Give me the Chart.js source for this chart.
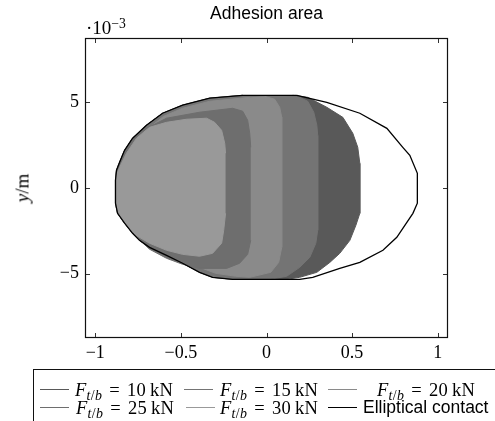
<!DOCTYPE html>
<html><head><meta charset="utf-8">
<script src="https://cdn.jsdelivr.net/npm/chart.js@4.4.1/dist/chart.umd.min.js"></script>
<style>
html,body{margin:0;padding:0;background:#fff;overflow:hidden;}
#wrap{position:relative;width:495px;height:421px;overflow:hidden;background:#fff;}
#c{position:absolute;left:0;top:0;}
.tex{position:absolute;font-family:'Liberation Serif',serif;font-size:18px;line-height:1;color:#000;white-space:nowrap;}
.leg{font-size:18.5px;letter-spacing:0.3px;}
.sans{font-family:'Liberation Sans',Arial,sans-serif;font-size:17.5px;letter-spacing:0;}
.sub{font-size:75%;position:relative;top:0.3em;}
.sup{font-size:72%;position:relative;top:-0.45em;}
.eq{margin:0 7px;}
.unit{margin-left:4px;}
#legend{position:absolute;left:33px;top:369px;width:600px;height:200px;border:1px solid #111;box-sizing:border-box;}
.lline{position:absolute;height:0;border-top:1.3px solid #000;}
</style></head>
<body><div id="wrap">
<canvas id="c" width="495" height="421"></canvas>
<div class="tex" style="left:86px;top:18px;font-size:19px">·10<span class="sup">−3</span></div>
<div class="tex" style="left:22px;top:188px;transform:translate(-50%,-50%) rotate(-90deg);font-size:19px"><i>y</i>/m</div>
<div id="legend"></div>
</div>
<script>
// ---- data (x in m, y in 1e-3 m) ----
const xTicks = [-1, -0.5, 0, 0.5, 1];
const yTicks = [-5, 0, 5];
const forcesKN = [10, 15, 20, 25, 30];
const seriesNames = ['F10', 'F15', 'F20', 'F25', 'F30', 'Elliptical contact'];

// Elliptical contact, right half (top -> bottom)
const ellipseRightX = [0.177, 0.352, 0.545, 0.703, 0.796, 0.837, 0.881, 0.881, 0.855, 0.761, 0.680, 0.545, 0.428, 0.270, 0.194];
const ellipseRightY = [5.42, 5.01, 4.37, 3.49, 2.38, 1.91, 0.86, -0.89, -1.48, -2.88, -3.64, -4.35, -4.70, -5.22, -5.34];
// Contact boundary, left half (bottom -> top), shared by the larger adhesion areas
const contactLeftX = [-0.198, -0.315, -0.391, -0.490, -0.584, -0.683, -0.742, -0.782, -0.829, -0.870, -0.882, -0.882, -0.876, -0.858, -0.829, -0.782, -0.701, -0.607, -0.490, -0.332, -0.139];
const contactLeftY = [-5.34, -5.22, -4.93, -4.40, -3.94, -3.47, -3.06, -2.65, -2.06, -1.48, -0.89, 0.45, 1.04, 1.50, 2.20, 2.91, 3.67, 4.37, 4.84, 5.25, 5.42];

// F = 10 kN adhesion boundary, right part (top -> bottom)
const f10RightX = [0.153, 0.241, 0.352, 0.446, 0.504, 0.533, 0.545, 0.545, 0.522, 0.487, 0.428, 0.370, 0.294, 0.194, 0.118];
const f10RightY = [5.42, 5.30, 4.72, 4.13, 3.20, 2.38, 1.44, -1.48, -2.18, -3.06, -3.82, -4.35, -4.93, -5.22, -5.34];
// F = 15 kN adhesion boundary, right part (top -> bottom)
const f15RightX = [0.182, 0.241, 0.276, 0.294, 0.299, 0.299, 0.288, 0.253, 0.194, 0.118, 0.019];
const f15RightY = [5.36, 5.07, 4.43, 3.67, 3.08, -2.47, -3.23, -4.05, -4.64, -5.16, -5.34];
// F = 20 kN adhesion boundary (closed)
const f20X = [-0.011, 0.048, 0.077, 0.089, 0.089, 0.071, 0.025, -0.098, -0.180, -0.297, -0.373, -0.473, -0.566, -0.665, -0.724, -0.765, -0.812, -0.853, -0.864, -0.864, -0.858, -0.841, -0.812, -0.765, -0.689, -0.601, -0.490, -0.332, -0.098];
const f20Y = [5.36, 5.19, 4.72, 4.13, -3.47, -4.35, -4.93, -5.22, -5.16, -4.99, -4.70, -4.23, -3.76, -3.29, -2.94, -2.53, -1.95, -1.42, -0.89, 0.45, 0.98, 1.44, 2.09, 2.73, 3.49, 4.19, 4.66, 5.07, 5.30];
// F = 25 kN adhesion boundary (closed)
const f25X = [-0.092, -0.098, -0.110, -0.139, -0.198, -0.391, -0.584, -0.724, -0.800, -0.841, -0.864, -0.870, -0.870, -0.853, -0.812, -0.759, -0.683, -0.584, -0.490, -0.391, -0.233, -0.157, -0.110, -0.092];
const f25Y = [2.38, 3.20, 3.96, 4.49, 4.66, 4.43, 4.08, 3.37, 2.61, 1.91, 1.21, 0.45, -0.89, -1.48, -2.18, -2.88, -3.58, -4.11, -4.46, -4.70, -4.70, -4.40, -3.88, -3.06];
// F = 30 kN adhesion boundary (closed)
const f30X = [-0.239, -0.244, -0.262, -0.303, -0.350, -0.467, -0.584, -0.683, -0.759, -0.818, -0.858, -0.876, -0.876, -0.841, -0.782, -0.683, -0.584, -0.490, -0.391, -0.315, -0.262, -0.250, -0.239];
const f30Y = [2.03, 2.61, 3.37, 3.84, 4.08, 4.02, 3.84, 3.55, 2.91, 2.03, 1.21, 0.74, -1.13, -1.89, -2.65, -3.23, -3.64, -3.88, -3.99, -3.82, -3.23, -2.47, -1.48];

// ---- styles ----
const fillColors = ['#595959', '#747474', '#8a8a8a', '#6e6e6e', '#999999'];

const pts = (xs, ys) => xs.map((x, i) => ({x: x, y: ys[i]}));
const contactLeft = pts(contactLeftX, contactLeftY);
const ellipseRight = pts(ellipseRightX, ellipseRightY);
const ellipsePts = [...ellipseRight, ...contactLeft, ellipseRight[0]];
const areas = [
  [...pts(f10RightX, f10RightY), ...contactLeft],
  [...pts(f15RightX, f15RightY), ...contactLeft],
  pts(f20X, f20Y),
  pts(f25X, f25Y),
  pts(f30X, f30Y)
];

const common = {showLine: true, pointRadius: 0, pointHoverRadius: 0, tension: 0};
const datasets = [{
  ...common, label: seriesNames[5], data: ellipsePts, borderColor: '#000', borderWidth: 1.3, fill: false
}];
for (let i = areas.length - 1; i >= 0; i--) {
  datasets.push({...common, label: seriesNames[i], data: areas[i], borderColor: fillColors[i],
    backgroundColor: fillColors[i], borderWidth: 1, fill: 'shape'});
}

const fmt = v => (v < 0 ? '\u2212' + Math.abs(v) : String(v));
const tickFont = {family: 'Liberation Serif', size: 18};

const framePlugin = {
  id: 'frame',
  afterDraw(chart) {
    const {ctx, chartArea: a, scales} = chart;
    const L = Math.round(a.left), R = Math.round(a.right), T = Math.round(a.top), B = Math.round(a.bottom);
    ctx.save();
    ctx.strokeStyle = '#333'; ctx.lineWidth = 1;
    ctx.beginPath();
    xTicks.forEach(v => {
      const p = Math.round(scales.x.getPixelForValue(v)) + 0.5;
      ctx.moveTo(p, T); ctx.lineTo(p, T + 5);
      ctx.moveTo(p, B); ctx.lineTo(p, B - 5);
    });
    yTicks.forEach(v => {
      const p = Math.round(scales.y.getPixelForValue(v)) + 0.5;
      ctx.moveTo(L, p); ctx.lineTo(L + 5, p);
      ctx.moveTo(R, p); ctx.lineTo(R - 5, p);
    });
    ctx.stroke();
    ctx.strokeStyle = '#111'; ctx.lineWidth = 1.2;
    ctx.strokeRect(L + 0.5, T + 0.5, R - L - 1, B - T - 1);
    ctx.restore();
  }
};

new Chart(document.getElementById('c'), {
  type: 'scatter',
  data: {datasets},
  options: {
    responsive: false, animation: false, events: [],
    layout: {padding: {left: 0, right: 47, top: 0, bottom: 0}},
    plugins: {
      legend: {display: false}, tooltip: {enabled: false},
      title: {display: true, fullSize: false, text: 'Adhesion area', color: '#000',
        font: {family: 'Liberation Sans', size: 17.5, weight: 'normal', lineHeight: 1.2},
        padding: {top: 4, bottom: 13}}
    },
    scales: {
      x: {type: 'linear', min: -1.06, max: 1.06,
        grid: {display: false, drawTicks: false}, border: {display: false},
        afterBuildTicks: s => { s.ticks = xTicks.map(v => ({value: v})); },
        afterFit: s => { s.height = 83; },
        ticks: {callback: v => fmt(v), font: tickFont, color: '#000', padding: 4, maxRotation: 0, autoSkip: false}},
      y: {type: 'linear', min: -8.77, max: 8.77,
        grid: {display: false, drawTicks: false}, border: {display: false},
        afterBuildTicks: s => { s.ticks = yTicks.map(v => ({value: v})); },
        afterFit: s => { s.width = 85; },
        ticks: {callback: v => fmt(v), font: tickFont, color: '#000', padding: 6, autoSkip: false}}
    }
  },
  plugins: [framePlugin]
});

// ---- legend (HTML, math typeset) ----
const legendSlots = [
  {lx: 40, tx: 75, cy: 390}, {lx: 184, tx: 220, cy: 390}, {lx: 328, tx: 377, cy: 390},
  {lx: 40, tx: 76, cy: 408}, {lx: 186, tx: 220, cy: 408}, {lx: 328, tx: 363, cy: 408}
];
const legendColors = [...fillColors, '#000'];
const wrap = document.getElementById('wrap');
legendSlots.forEach((s, i) => {
  const ln = document.createElement('div');
  ln.className = 'lline';
  ln.style.left = s.lx + 'px'; ln.style.top = (s.cy - 1) + 'px'; ln.style.width = '29px';
  ln.style.borderTopColor = legendColors[i];
  wrap.appendChild(ln);
  const t = document.createElement('div');
  if (i < forcesKN.length) {
    t.className = 'tex leg';
    t.innerHTML = '<i>F</i><span class="sub"><i>t</i>/<i>b</i></span><span class="eq">=</span>' + forcesKN[i] + '<span class="unit">kN</span>';
  } else {
    t.className = 'tex sans';
    t.textContent = seriesNames[5];
  }
  t.style.left = s.tx + 'px'; t.style.top = (s.cy - 9) + 'px';
  wrap.appendChild(t);
});
</script>
</body></html>
